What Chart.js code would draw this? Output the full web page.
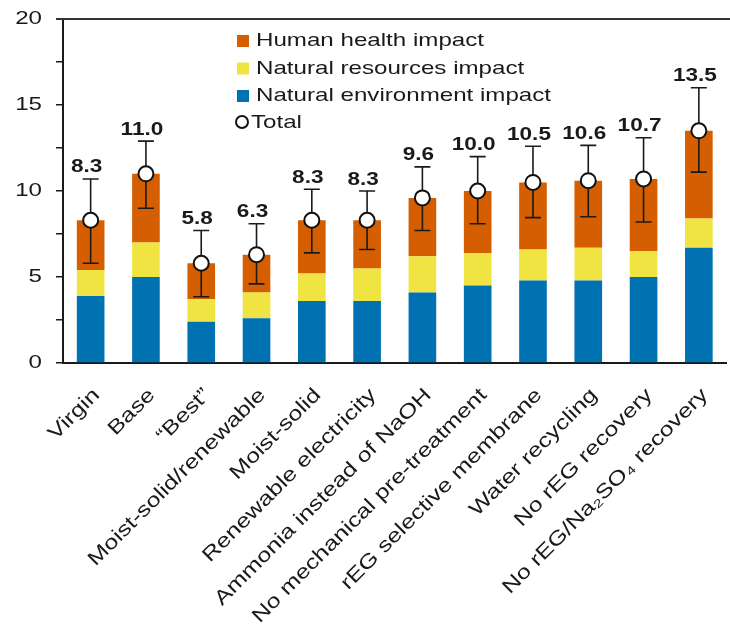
<!DOCTYPE html>
<html>
<head>
<meta charset="utf-8">
<script src="https://cdn.jsdelivr.net/npm/chart.js@4/dist/chart.umd.min.js"></script>
<style>
  html, body { margin: 0; padding: 0; background: #fff; overflow: hidden; width: 730px; height: 624px; }
  canvas { display: block; }
</style>
</head>
<body>
<canvas id="chart" width="736" height="624" style="width:736px;height:624px"></canvas>
<script>
// Scenario names along the x axis
const categories = [
  'Virgin', 'Base', '\u201CBest\u201D', 'Moist-solid/renewable', 'Moist-solid',
  'Renewable electricity', 'Ammonia instead of NaOH', 'No mechanical pre-treatment',
  'rEG selective membrane', 'Water recycling', 'No rEG recovery',
  'No rEG/Na\u2082SO\u2084 recovery'
];

// Stacked impact components
const environmentImpact = [3.9, 5.0, 2.4, 2.6, 3.6, 3.6, 4.1, 4.5, 4.8, 4.8, 5.0, 6.7];
const resourcesImpact   = [1.5, 2.0, 1.3, 1.5, 1.6, 1.9, 2.1, 1.9, 1.8, 1.9, 1.5, 1.7];
const healthImpact      = [2.9, 4.0, 2.1, 2.2, 3.1, 2.8, 3.4, 3.6, 3.9, 3.9, 4.2, 5.1];

// Total impact (circles and value labels) with its uncertainty range
const totalImpact = [8.3, 11.0, 5.8, 6.3, 8.3, 8.3, 9.6, 10.0, 10.5, 10.6, 10.7, 13.5];
const errorLow    = [5.8, 9.0, 3.85, 4.6, 6.4, 6.6, 7.7, 8.1, 8.45, 8.5, 8.2, 11.1];
const errorHigh   = [10.7, 12.9, 7.7, 8.1, 10.1, 10.0, 11.4, 12.0, 12.6, 12.65, 13.1, 16.0];

// Labelled values on the y axis
const yTickValues = [0, 5, 10, 15, 20];

const seriesNames = ['Natural environment impact', 'Natural resources impact', 'Human health impact', 'Total'];
const colors = { environment: '#0072B2', resources: '#F0E442', health: '#D55E00' };

const FONT = '"Liberation Sans", Arial, Helvetica, sans-serif';
const TEXT_STRETCH = 1.27;
const INK = '#1a1a1a';

// Draws text with the slightly widened lettering used throughout the figure
function wideText(ctx, text, x, y, o) {
  ctx.save();
  ctx.translate(x, y);
  if (o.rotate) ctx.rotate(o.rotate);
  ctx.scale(o.stretch || TEXT_STRETCH, 1);
  ctx.font = o.font;
  ctx.fillStyle = o.color || INK;
  ctx.textAlign = o.align || 'left';
  ctx.textBaseline = o.baseline || 'middle';
  ctx.fillText(text, 0, 0);
  ctx.restore();
}

// Error bars sit behind the total markers
const errorBars = {
  id: 'errorBars',
  beforeDatasetDraw(chart, args) {
    if (args.meta.type !== 'line') return;
    const ctx = chart.ctx, y = chart.scales.y;
    ctx.save();
    ctx.strokeStyle = '#1a1a1a';
    ctx.lineWidth = 1.6;
    args.meta.data.forEach((pt, i) => {
      const x = pt.x;
      const yl = y.getPixelForValue(errorLow[i]);
      const yh = y.getPixelForValue(errorHigh[i]);
      ctx.beginPath();
      ctx.moveTo(x, yl); ctx.lineTo(x, yh);
      ctx.moveTo(x - 8, yl); ctx.lineTo(x + 8, yl);
      ctx.moveTo(x - 8, yh); ctx.lineTo(x + 8, yh);
      ctx.stroke();
    });
    ctx.restore();
  }
};

// Axis labels, value labels, legend and frame
const annotations = {
  id: 'annotations',
  afterDraw(chart) {
    const ctx = chart.ctx, xs = chart.scales.x, ys = chart.scales.y;
    const area = chart.chartArea;

    // frame line along the top
    ctx.save();
    ctx.strokeStyle = '#333';
    ctx.lineWidth = 2;
    ctx.beginPath();
    ctx.moveTo(area.left - 7, area.top);
    ctx.lineTo(chart.width, area.top);
    ctx.stroke();
    ctx.restore();

    // y tick labels
    yTickValues.forEach(v => {
      wideText(ctx, String(v), 42, ys.getPixelForValue(v), { font: '19px ' + FONT, align: 'right' });
    });

    // x category labels, rotated
    categories.forEach((name, i) => {
      const x = xs.getPixelForValue(i);
      wideText(ctx, name, x + 6, area.bottom + 29, {
        font: '20px ' + FONT, align: 'right', rotate: -Math.PI / 4, stretch: 1.25
      });
    });

    // total value labels above the error bars
    totalImpact.forEach((v, i) => {
      const x = xs.getPixelForValue(i);
      wideText(ctx, v.toFixed(1), x - 4, ys.getPixelForValue(errorHigh[i]) - 6.5, {
        font: 'bold 18.5px ' + FONT, align: 'center', baseline: 'alphabetic', stretch: 1.22
      });
    });

    // legend
    const rows = [
      { name: seriesNames[2], color: colors.health, y: 41 },
      { name: seriesNames[1], color: colors.resources, y: 68.5 },
      { name: seriesNames[0], color: colors.environment, y: 96 }
    ];
    rows.forEach(r => {
      ctx.fillStyle = r.color;
      ctx.fillRect(237, r.y - 6, 12, 12);
      wideText(ctx, r.name, 256, r.y, { font: '19px ' + FONT });
    });
    ctx.save();
    ctx.beginPath();
    ctx.arc(242, 122, 6, 0, Math.PI * 2);
    ctx.fillStyle = '#fff';
    ctx.fill();
    ctx.lineWidth = 2;
    ctx.strokeStyle = '#111';
    ctx.stroke();
    ctx.restore();
    wideText(ctx, seriesNames[3], 251, 122.5, { font: '19px ' + FONT });
  }
};

new Chart(document.getElementById('chart'), {
  data: {
    labels: categories,
    datasets: [
      {
        type: 'line', label: seriesNames[3], data: totalImpact, order: 0,
        showLine: false, pointRadius: 7.5, pointHoverRadius: 7.5,
        pointBackgroundColor: '#fff', pointBorderColor: '#111', pointBorderWidth: 2
      },
      { type: 'bar', label: seriesNames[0], data: environmentImpact, backgroundColor: colors.environment, order: 1 },
      { type: 'bar', label: seriesNames[1], data: resourcesImpact, backgroundColor: colors.resources, order: 1 },
      { type: 'bar', label: seriesNames[2], data: healthImpact, backgroundColor: colors.health, order: 1 }
    ]
  },
  options: {
    responsive: false,
    animation: false,
    devicePixelRatio: 1,
    layout: { padding: { top: 19, right: 0, bottom: 0, left: 0 } },
    datasets: { bar: { categoryPercentage: 1, barPercentage: 0.5 } },
    plugins: { legend: { display: false }, tooltip: { enabled: false } },
    scales: {
      x: {
        stacked: true,
        offset: true,
        grid: { display: false },
        border: { display: true, color: '#1a1a1a', width: 2 },
        ticks: { display: false },
        afterFit(s) { s.height = 261; }
      },
      y: {
        stacked: true,
        min: 0, max: 20,
        ticks: { display: false, stepSize: 2.5 },
        grid: { display: true, drawOnChartArea: false, drawTicks: true, tickLength: 7, color: '#1a1a1a', lineWidth: 1.5 },
        border: { display: true, color: '#1a1a1a', width: 2 },
        afterFit(s) { s.width = 63; }
      }
    }
  },
  plugins: [errorBars, annotations]
});
</script>
</body>
</html>
